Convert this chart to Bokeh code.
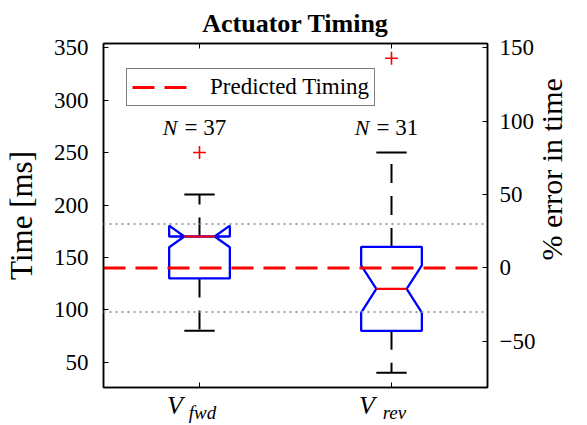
import math
from bokeh.plotting import figure
from bokeh.models import (Range1d, LinearAxis, FixedTicker, Span,
                          Legend, LegendItem, Label)
from bokeh.embed import file_html
from bokeh.resources import INLINE

# ---------------- data ----------------
categories = ["fwd", "rev"]
positions = [1, 2]
n_obs = [37, 31]
q1 = [130, 80]
median = [170, 120]
q3 = [170, 160]
whisker_lo = [80, 40]
whisker_hi = [210, 250]
outlier_pos = [1, 2]
outlier_val = [250, 340]
predicted = 140          # ms
tol_pct = 30             # dotted band, % of predicted
y_ticks = [50, 100, 150, 200, 250, 300, 350]
pct_ticks = [-50, 0, 50, 100, 150]

# ---------------- style ----------------
FONT = "Liberation Serif"
BLUE = "#0000ff"
RED = "#ff0000"
GRAY = "#a0a0a0"
W, H = 587, 425
BL, BR, BT, BB = 102, 94, 43, 37
X0, X1 = 0.5, 2.5
Y0, Y1 = 26, 354
half_w = 0.158
inner_w = half_w / 2
cap_w = half_w / 2
px_per_x = (W - BL - BR) / (X1 - X0)

p = figure(width=W, height=H, output_backend="svg", toolbar_location=None,
           x_range=Range1d(X0, X1), y_range=Range1d(Y0, Y1),
           min_border_left=BL, min_border_right=BR,
           min_border_top=BT, min_border_bottom=BB)
p.background_fill_color = "white"
p.border_fill_color = "white"
p.outline_line_color = "black"
p.outline_line_width = 1.5
p.xgrid.visible = False
p.ygrid.visible = False

p.title.text = "Actuator Timing"
p.title.text_font = FONT
p.title.text_font_size = "26px"
p.title.text_font_style = "bold"
p.title.text_color = "black"
p.title.align = "center"
p.title.standoff = 11

# left axis
ya = p.yaxis[0]
ya.ticker = FixedTicker(ticks=y_ticks)
ya.major_tick_in = 5
ya.major_tick_out = 0
ya.minor_tick_line_color = None
ya.axis_line_color = "black"
ya.axis_line_width = 1.5
ya.major_label_text_font = FONT
ya.major_label_text_font_size = "23px"
ya.major_label_text_color = "black"
ya.major_label_standoff = 15
ya.axis_label = "Time [ms]"
ya.axis_label_text_font = FONT
ya.axis_label_text_font_size = "31px"
ya.axis_label_text_font_style = "normal"
ya.axis_label_text_color = "black"
ya.axis_label_standoff = 12

# bottom axis: ticks only
xa = p.xaxis[0]
xa.ticker = FixedTicker(ticks=positions)
xa.major_tick_in = 5
xa.major_tick_out = 0
xa.minor_tick_line_color = None
xa.axis_line_color = "black"
xa.axis_line_width = 1.5
xa.major_label_overrides = {pos: "" for pos in positions}
xa.major_label_text_font_size = "1px"
xa.major_label_standoff = 0

# top axis: inward ticks only
ta = LinearAxis(ticker=FixedTicker(ticks=positions))
ta.major_tick_in = 5
ta.major_tick_out = 0
ta.minor_tick_line_color = None
ta.axis_line_color = "black"
ta.axis_line_width = 1.5
ta.major_label_overrides = {pos: "" for pos in positions}
ta.major_label_text_font_size = "1px"
ta.major_label_standoff = 0
p.add_layout(ta, "above")

# category labels: "V" and its subscript, on shifted scales
p.extra_x_ranges = {
    "v_lab": Range1d(X0 + 25 / px_per_x, X1 + 25 / px_per_x),
    "sub_lab": Range1d(X0 - 3 / px_per_x, X1 - 3 / px_per_x),
}
va = LinearAxis(x_range_name="v_lab", ticker=FixedTicker(ticks=positions))
va.major_label_overrides = {pos: "V" for pos in positions}
va.major_label_text_font = FONT
va.major_label_text_font_style = "italic"
va.major_label_text_font_size = "26px"
va.major_label_text_color = "black"
va.major_label_standoff = -3
va.major_tick_line_color = None
va.minor_tick_line_color = None
va.axis_line_color = None
p.add_layout(va, "below")

sa = LinearAxis(x_range_name="sub_lab", ticker=FixedTicker(ticks=positions))
sa.major_label_overrides = {pos: c for pos, c in zip(positions, categories)}
sa.major_label_text_font = FONT
sa.major_label_text_font_style = "italic"
sa.major_label_text_font_size = "19px"
sa.major_label_text_color = "black"
sa.major_label_standoff = -27
sa.major_tick_line_color = None
sa.minor_tick_line_color = None
sa.axis_line_color = None
p.add_layout(sa, "below")

# right axis: % error relative to predicted timing
p.extra_y_ranges = {"pct": Range1d((Y0 - predicted) / predicted * 100,
                                   (Y1 - predicted) / predicted * 100)}
ra = LinearAxis(y_range_name="pct", ticker=FixedTicker(ticks=pct_ticks))
ra.major_tick_in = 5
ra.major_tick_out = 0
ra.minor_tick_line_color = None
ra.axis_line_color = "black"
ra.axis_line_width = 1.5
ra.major_label_text_font = FONT
ra.major_label_text_font_size = "23px"
ra.major_label_text_color = "black"
ra.major_label_standoff = 12
p.add_layout(ra, "right")

# right-hand axis title, reading bottom-to-top like the left one
rt = LinearAxis(y_range_name="pct", ticker=FixedTicker(ticks=[5]))
rt.major_label_overrides = {5: "% error in time"}
rt.major_label_orientation = math.pi / 2
rt.major_label_text_font = FONT
rt.major_label_text_font_size = "30px"
rt.major_label_text_color = "black"
rt.major_label_standoff = 7
rt.major_tick_line_color = None
rt.minor_tick_line_color = None
rt.axis_line_color = None
p.add_layout(rt, "right")

# ---------------- boxes ----------------
xs, ys, mx0, mx1 = [], [], [], []
for x, a, m, b, n in zip(positions, q1, median, q3, n_obs):
    nd = 1.57 * (b - a) / math.sqrt(n)
    lo, hi = m - nd, m + nd
    xs.append([x - half_w, x - half_w, x - inner_w, x - half_w, x - half_w,
               x + half_w, x + half_w, x + inner_w, x + half_w, x + half_w])
    ys.append([a, lo, m, hi, b, b, hi, m, lo, a])
    mx0.append(x - inner_w)
    mx1.append(x + inner_w)

p.segment(x0=positions, y0=q3, x1=positions, y1=whisker_hi,
          line_color="black", line_width=2, line_dash="19 13")
p.segment(x0=positions, y0=q1, x1=positions, y1=whisker_lo,
          line_color="black", line_width=2, line_dash="19 13")
p.segment(x0=[x - cap_w for x in positions], y0=whisker_hi,
          x1=[x + cap_w for x in positions], y1=whisker_hi,
          line_color="black", line_width=2)
p.segment(x0=[x - cap_w for x in positions], y0=whisker_lo,
          x1=[x + cap_w for x in positions], y1=whisker_lo,
          line_color="black", line_width=2)
p.patches(xs=xs, ys=ys, fill_color=None, line_color=BLUE, line_width=2.3)
p.segment(x0=mx0, y0=median, x1=mx1, y1=median, line_color=RED, line_width=2.2)
p.scatter(x=outlier_pos, y=outlier_val, marker="cross", size=13,
          line_color=RED, line_width=1.6)

# dotted +/- tolerance lines
for v in (predicted * (1 + tol_pct / 100), predicted * (1 - tol_pct / 100)):
    p.add_layout(Span(location=v, dimension="width", line_color=GRAY,
                      line_width=2, line_dash="2 4"))

# predicted timing line (full width of the x range)
pred_r = p.line(x=[X0, X1], y=[predicted, predicted], line_color=RED,
                line_width=3, line_dash="22 10")

legend = Legend(items=[LegendItem(label="Predicted Timing", renderers=[pred_r])],
                location=(23, 281))
legend.label_text_font = FONT
legend.label_text_font_size = "23px"
legend.label_text_color = "black"
legend.border_line_color = "black"
legend.border_line_width = 1.5
legend.background_fill_color = "white"
legend.background_fill_alpha = 1
legend.glyph_width = 56
legend.glyph_height = 18
legend.label_standoff = 22
legend.padding = 5
legend.margin = 0
legend.spacing = 0
p.add_layout(legend)

# N = labels
for x, n in zip(positions, n_obs):
    p.add_layout(Label(x=x, y=274, x_offset=-22, text="N", text_font=FONT,
                       text_font_style="italic", text_font_size="22px",
                       text_align="right", text_baseline="middle",
                       text_color="black"))
    p.add_layout(Label(x=x, y=274, x_offset=-15, text=f"= {n}", text_font=FONT,
                       text_font_size="23px", text_align="left",
                       text_baseline="middle", text_color="black"))

open("out.html", "w").write(file_html(p, INLINE))
